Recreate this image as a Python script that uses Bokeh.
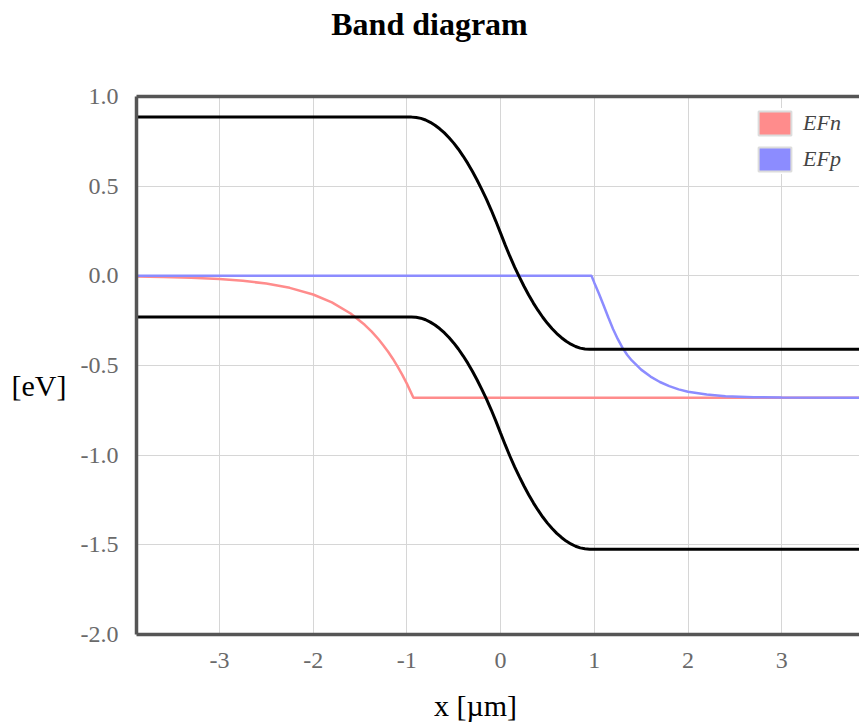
import math
from bokeh.plotting import figure
from bokeh.layouts import column
from bokeh.models import Range1d, LinearAxis, Legend, LegendItem, FixedTicker, Div
from bokeh.embed import file_html
from bokeh.resources import INLINE

# ---------------- data ----------------
x_band = [-3.9, -0.95, -0.90, -0.85, -0.80, -0.75, -0.70, -0.65, -0.60, -0.55, -0.50,
          -0.45, -0.40, -0.35, -0.30, -0.25, -0.20, -0.15, -0.10, -0.05, 0.00,
          0.05, 0.10, 0.15, 0.20, 0.25, 0.30, 0.35, 0.40, 0.45, 0.50,
          0.55, 0.60, 0.65, 0.70, 0.75, 0.80, 0.85, 0.90, 0.95, 3.9]
Ec = [0.885, 0.885, 0.883, 0.878, 0.869, 0.856, 0.840, 0.820, 0.797, 0.770, 0.740,
      0.706, 0.668, 0.627, 0.582, 0.533, 0.481, 0.426, 0.367, 0.304, 0.238,
      0.171, 0.108, 0.049, -0.006, -0.058, -0.107, -0.152, -0.193, -0.231, -0.265,
      -0.295, -0.322, -0.345, -0.365, -0.381, -0.394, -0.403, -0.408, -0.410, -0.410]
Ev = [-0.229, -0.229, -0.231, -0.236, -0.245, -0.258, -0.274, -0.294, -0.317, -0.344, -0.374,
      -0.408, -0.446, -0.487, -0.532, -0.581, -0.633, -0.688, -0.747, -0.810, -0.877,
      -0.943, -1.006, -1.065, -1.120, -1.172, -1.221, -1.266, -1.307, -1.345, -1.379,
      -1.409, -1.436, -1.459, -1.479, -1.495, -1.508, -1.517, -1.522, -1.524, -1.524]

x_efn = [-3.9, -3.6, -3.3, -3.0, -2.75, -2.5, -2.25, -2.0, -1.8, -1.6, -1.45, -1.375,
         -1.3, -1.25, -1.2, -1.15, -1.1, -1.05, -1.0, -0.93, 3.9]
EFn = [-0.004, -0.006, -0.011, -0.018, -0.028, -0.043, -0.067, -0.104, -0.148, -0.210,
       -0.273, -0.311, -0.355, -0.388, -0.423, -0.462, -0.505, -0.551, -0.601, -0.680, -0.680]

x_efp = [-3.9, 0.97, 1.00, 1.05, 1.10, 1.15, 1.20, 1.25, 1.30, 1.35, 1.40, 1.50, 1.60,
         1.70, 1.80, 1.90, 2.00, 2.20, 2.40, 2.70, 3.00, 3.9]
EFp = [0.000, 0.000, -0.038, -0.100, -0.165, -0.232, -0.296, -0.352, -0.400, -0.440,
       -0.472, -0.523, -0.562, -0.592, -0.615, -0.633, -0.646, -0.662, -0.671, -0.677,
       -0.679, -0.680]

x_ticks = [-3, -2, -1, 0, 1, 2, 3]
x_tick_labels = ["-3", "-2", "-1", "0", "1", "2", "3"]
y_ticks = [-2.0, -1.5, -1.0, -0.5, 0.0, 0.5, 1.0]
y_tick_labels = ["-2.0", "-1.5", "-1.0", "-0.5", "0.0", "0.5", "1.0"]

legend_labels = ["EFn", "EFp"]
red = "#ff8c8c"
blue = "#8c8cff"

SERIF = "Liberation Serif"
TITLE_H = 50

title = Div(text="Band diagram", width=859, height=TITLE_H, margin=0,
            styles={"font-family": "'Liberation Serif', serif", "font-size": "32px",
                    "font-weight": "bold", "text-align": "center", "color": "black",
                    "padding-top": "2px", "box-sizing": "border-box"})

# ---------------- figure ----------------
p = figure(width=859, height=724 - TITLE_H, output_backend="svg", toolbar_location=None,
           x_range=Range1d(-3.885, 3.83), y_range=Range1d(-2.0, 1.0),
           min_border_left=136, min_border_right=0, min_border_top=96 - TITLE_H,
           min_border_bottom=89)
p.outline_line_color = None
p.background_fill_color = "white"

p.xaxis.ticker = FixedTicker(ticks=x_ticks)
p.yaxis.ticker = FixedTicker(ticks=y_ticks)
p.xaxis.major_label_overrides = {t: l for t, l in zip(x_ticks, x_tick_labels)}
p.yaxis.major_label_overrides = {t: l for t, l in zip(y_ticks, y_tick_labels)}

for ax in (p.xaxis[0], p.yaxis[0]):
    ax.axis_line_color = "#555555"
    ax.axis_line_width = 3.5
    ax.major_tick_line_color = None
    ax.minor_tick_line_color = None
    ax.major_label_text_font = SERIF
    ax.major_label_text_font_size = "24px"
    ax.major_label_text_color = "#6a6a6a"
    ax.major_label_standoff = 12
    ax.axis_label_text_font = SERIF
    ax.axis_label_text_font_size = "30px"
    ax.axis_label_text_font_style = "normal"
    ax.axis_label_text_color = "black"

p.xaxis.axis_label = "x [µm]" + "\u00a0" * 6
p.xaxis.axis_label_standoff = 18
p.yaxis.axis_label = "\n[eV]"
p.yaxis.axis_label_orientation = "horizontal"
p.yaxis.axis_label_standoff = 11

top_axis = LinearAxis(axis_line_color="#555555", axis_line_width=3.5,
                      ticker=FixedTicker(ticks=[]),
                      major_tick_line_color=None, minor_tick_line_color=None)
p.add_layout(top_axis, "above")

p.xgrid.ticker = FixedTicker(ticks=x_ticks)
p.ygrid.ticker = FixedTicker(ticks=y_ticks)
p.grid.grid_line_color = "#d6d6d6"
p.grid.grid_line_width = 1

# curves
p.line(x_efn, EFn, line_color=red, line_width=2.5)
p.line(x_efp, EFp, line_color=blue, line_width=2.5)
p.line(x_band, Ec, line_color="black", line_width=3)
p.line(x_band, Ev, line_color="black", line_width=3)

# legend swatches (box style); NaN so nothing is drawn in the plot area
nan = [math.nan]
rn = p.quad(left=nan, right=nan, top=nan, bottom=nan, fill_color=red,
            line_color="#dcdcdc", line_width=2)
rp = p.quad(left=nan, right=nan, top=nan, bottom=nan, fill_color=blue,
            line_color="#dcdcdc", line_width=2)
legend = Legend(items=[LegendItem(label=legend_labels[0], renderers=[rn]),
                       LegendItem(label=legend_labels[1], renderers=[rp])],
                location=(618, 460), glyph_width=41, glyph_height=30,
                label_text_font=SERIF, label_text_font_style="italic",
                label_text_font_size="22px", label_text_color="#444444",
                label_width=48, spacing=6, padding=8, margin=0, label_standoff=8,
                border_line_color=None, background_fill_color="white",
                background_fill_alpha=1.0)
p.add_layout(legend)

layout = column(title, p, spacing=0)
open("out.html", "w").write(file_html(layout, INLINE))
